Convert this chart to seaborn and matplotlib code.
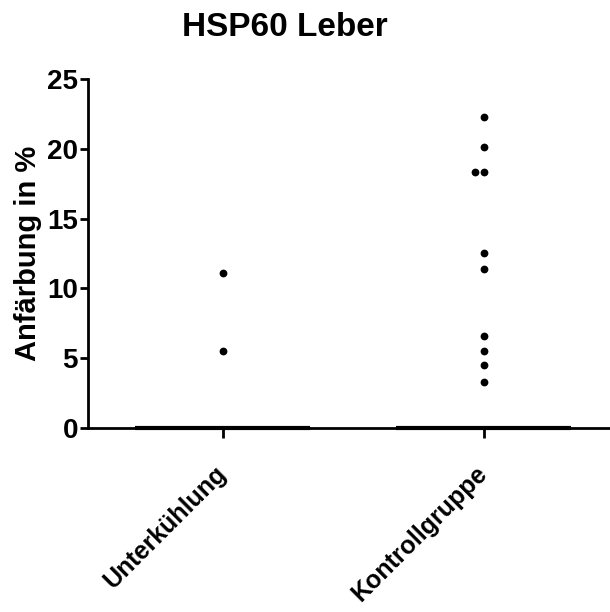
"""
HSP60 Leber - Scatter-Dot-Plot mit Medianlinie (Prism-Stil)
"""
import pandas as pd
import numpy as np
import matplotlib
matplotlib.use("Agg")
import matplotlib.pyplot as plt
import seaborn as sns

# Daten (Nullwerte liegen unter der Medianlinie)
gruppen = ["Unterkühlung", "Kontrollgruppe"]
werte_unterkuehlung = [0, 0, 0, 0, 0, 0, 0, 0, 0, 0, 5.5, 11.1]
werte_kontrolle = [0, 0, 0, 0, 0, 0, 0, 0, 0, 0, 0, 0,
                   3.3, 4.5, 5.5, 6.6, 11.4, 12.5, 18.3, 18.3, 20.1, 22.3]
y_ticks = [0, 5, 10, 15, 20, 25]

df = pd.DataFrame({
    "gruppe": [gruppen[0]] * len(werte_unterkuehlung) + [gruppen[1]] * len(werte_kontrolle),
    "wert": werte_unterkuehlung + werte_kontrolle,
})

sns.set_style("ticks")
plt.rcParams["font.family"] = ["Liberation Sans", "DejaVu Sans"]
plt.rcParams["font.weight"] = "bold"
plt.rcParams["text.color"] = "black"
plt.rcParams["axes.labelcolor"] = "black"

fig = plt.figure(figsize=(6.1, 6.12), dpi=100)
ax = fig.add_axes([0.144, 0.3007, 0.856, 0.5703])

# Punkte (Nullwerte werden von der Medianlinie verdeckt)
sns.swarmplot(data=df[df["wert"] > 0], x="gruppe", y="wert", order=gruppen,
              color="black", size=5.6, ax=ax, zorder=3)

# Medianlinien
medianes = df.groupby("gruppe")["wert"].median().reindex(gruppen)
for i, med in enumerate(medianes.values):
    ax.hlines(med, i - 0.335, i + 0.335, colors="black", linewidth=3,
              clip_on=False, zorder=4, capstyle="butt")

ax.set_xlim(-0.517, 1.485)
ax.set_ylim(0, 25)
ax.set_yticks(y_ticks)
ax.set_yticklabels([str(t) for t in y_ticks], fontsize=20, fontweight="bold")
ax.set_xticks(range(len(gruppen)))
ax.set_xticklabels(gruppen, rotation=45, ha="right", va="center",
                   rotation_mode="anchor", fontsize=18, fontweight="bold")
ax.tick_params(axis="x", length=7, width=2, pad=23, colors="black")
ax.tick_params(axis="y", length=6, width=2, pad=1, colors="black")

ax.set_xlabel("")
ax.set_ylabel("Anfärbung in %", fontsize=21, fontweight="bold", labelpad=4,
              color="black")

sns.despine(ax=ax)
for s in ["left", "bottom"]:
    ax.spines[s].set_linewidth(2)
    ax.spines[s].set_color("black")

fig.text(285 / 610, 1 - 27 / 612, "HSP60 Leber", ha="center", va="center",
         fontsize=24, fontweight="bold", color="black")

fig.savefig("out.png", dpi=100)
